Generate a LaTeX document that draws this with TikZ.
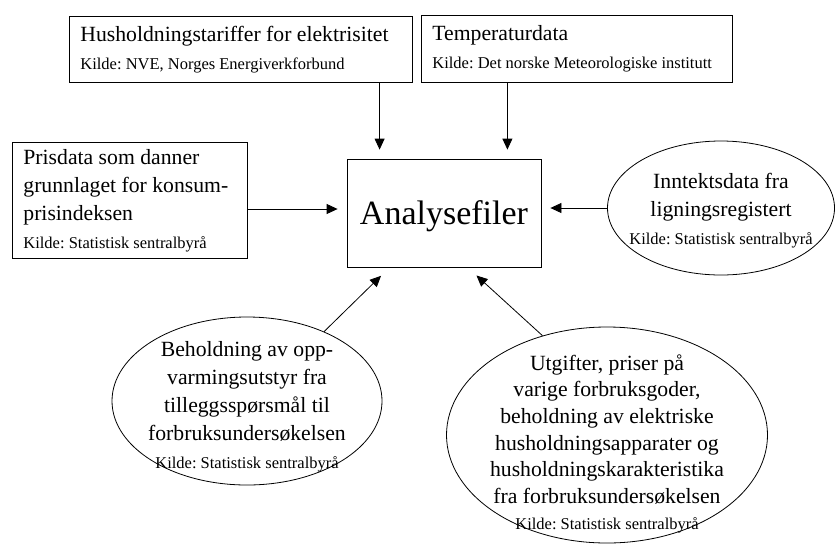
\documentclass[tikz,border=0pt]{standalone}
\usepackage{fontspec}
\setmainfont{Liberation Serif}
\usetikzlibrary{arrows.meta,shapes.geometric}
\newcommand{\fastsp}{\spaceskip=\fontdimen2\font\relax\xspaceskip=0pt\frenchspacing}
\newcommand{\mainfs}{\fontsize{21.7}{28}\selectfont}
\newcommand{\kildefs}{\fontsize{16.5}{21}\selectfont\fastsp}
\newcommand{\analysefs}{\fontsize{34}{40}\selectfont}
\tikzset{
  every node/.append style={execute at begin node=\fastsp},
  srcbox/.style={draw, rectangle, anchor=north west, align=left, inner xsep=11pt, font=\mainfs},
  srcell/.style={draw, ellipse, inner sep=0pt},
  celltext/.style={align=center, font=\mainfs, text width=#1},
  arr/.style={-{Triangle[length=11pt,width=10pt]}, shorten >=9pt},
}
\begin{document}
\begin{tikzpicture}[x=1pt,y=-1pt,line width=0.8pt]
  \useasboundingbox (0,0) rectangle (835,547);
  % kilder i rektangler
  \node[srcbox, text width=321pt, minimum height=66pt] (tariff) at (69,16)
    {Husholdningstariffer for elektrisitet\par\kildefs Kilde: NVE, Norges Energiverkforbund};
  \node[srcbox, text width=289pt, minimum height=67pt] (temp) at (421,15)
    {Temperaturdata\par\kildefs Kilde: Det norske Meteorologiske institutt};
  \node[srcbox, text width=213pt, minimum height=116pt] (pris) at (12,142)
    {Prisdata som danner\\grunnlaget for konsum-\\prisindeksen\par\kildefs Kilde: Statistisk sentralbyrå};
  \node[draw, minimum width=194pt, minimum height=108pt, text depth=0pt, font=\analysefs] (ana) at (444,213) {Analysefiler};
  % kilder i ellipser
  \node[srcell, minimum width=227pt, minimum height=134pt] (innt) at (721,208) {};
  \node[celltext=230pt] (innttekst) at ([yshift=-3pt]innt.center)
    {Inntektsdata fra\\ligningsregistert\par\kildefs Kilde: Statistisk sentralbyrå};
  \node[srcell, minimum width=270pt, minimum height=168pt] (beh) at (247,401) {};
  \node[celltext=260pt] (behtekst) at ([yshift=-6pt]beh.center)
    {Beholdning av opp-\\varmingsutstyr fra\\tilleggsspørsmål til\\forbruksundersøkelsen\par\kildefs Kilde: Statistisk sentralbyrå};
  \node[srcell, minimum width=321pt, minimum height=216pt] (utg) at (607,435) {};
  \node[celltext=300pt, font={\fontsize{21.7}{26.6}\selectfont}] (utgtekst) at ([yshift=-9pt]utg.center)
    {Utgifter, priser på\\varige forbruksgoder,\\beholdning av elektriske\\husholdningsapparater og\\husholdningskarakteristika\\fra forbruksundersøkelsen\par\kildefs Kilde: Statistisk sentralbyrå};
  % piler inn til analysefilene
  \coordinate (inn1) at ([xshift=33pt]ana.north west);
  \coordinate (inn2) at ([xshift=-34pt]ana.north east);
  \coordinate (inn3) at ([yshift=4pt]ana.west);
  \coordinate (inn4) at ([yshift=5pt]ana.east);
  \coordinate (inn5) at ([xshift=43pt]ana.south west);
  \coordinate (inn6) at ([xshift=121pt]ana.south west);
  \draw[arr] (inn1 |- tariff.south) -- (inn1);
  \draw[arr] (inn2 |- temp.south) -- (inn2);
  \draw[arr] (inn3 -| pris.east) -- (inn3);
  \draw[arr] (innt.west) -- (inn4);
  \draw[arr, shorten >=12pt] (beh.42) -- (inn5);
  \draw[arr, shorten >=12pt] (utg.123) -- (inn6);
\end{tikzpicture}
\end{document}
